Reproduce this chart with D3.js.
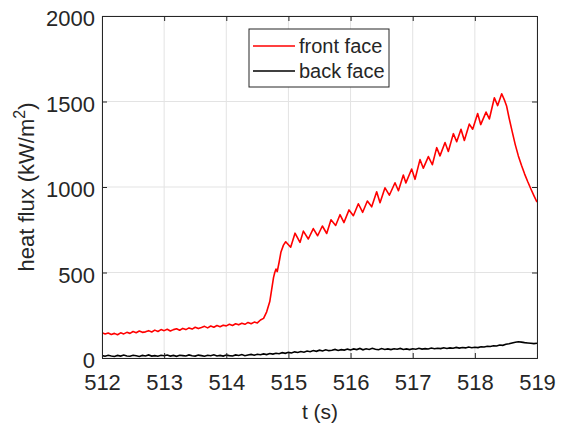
<!DOCTYPE html>
<html><head><meta charset="utf-8">
<script src="https://cdn.jsdelivr.net/npm/d3@7"></script>
<style>body{margin:0;background:#fff}svg{display:block}text{font-family:"Liberation Sans",Arial,sans-serif;fill:#262626}</style>
</head><body><svg id="c" width="561" height="427"></svg>
<script>
const xTicks=[512,513,514,515,516,517,518,519];
const yTicks=[0,500,1000,1500,2000];
const seriesNames=["front face","back face"];
const seriesColors=["#ff0000","#000000"];

const frontT=[512.00,512.05,512.10,512.15,512.20,512.25,512.30,512.35,512.40,512.45,
512.50,512.55,512.60,512.65,512.70,512.75,512.80,512.85,512.90,512.95,
513.00,513.05,513.10,513.15,513.20,513.25,513.30,513.35,513.40,513.45,
513.50,513.55,513.60,513.65,513.70,513.75,513.80,513.85,513.90,513.95,
514.00,514.05,514.10,514.15,514.20,514.25,514.30,514.35,514.40,514.45,514.50,
514.55,514.60,514.65,514.70,514.73,514.76,514.78,514.80,514.82,514.85,514.88,514.92,514.956,
515.036,515.106,515.186,515.24,515.32,515.40,515.47,515.546,515.616,515.685,515.76,515.83,515.894,515.975,
516.045,516.125,516.195,516.27,516.34,516.42,516.474,516.554,516.624,516.715,516.77,516.849,516.89,516.983,
517.037,517.117,517.171,517.252,517.316,517.386,517.439,517.52,517.573,517.654,517.708,517.777,517.831,517.911,517.965,
518.045,518.094,518.18,518.233,518.314,518.367,518.432,518.48,518.512,518.55,518.60,518.65,518.70,518.75,518.80,518.85,518.90,518.95,519.00];
const frontV=[148,140,146,138,144,136,147,141,150,144,
155,148,158,150,153,160,152,163,155,166,
160,168,158,166,171,162,173,166,176,169,
180,172,178,185,176,187,180,190,183,192,
188,197,190,200,194,203,197,208,200,210,205,
222,232,270,330,400,470,500,520,505,560,620,660,680,
648,730,676,742,696,757,715,772,728,808,775,838,792,866,
832,902,852,918,884,972,908,995,952,1025,978,1070,1024,1105,
1045,1160,1110,1178,1130,1230,1182,1260,1208,1312,1265,1338,1272,1368,1338,
1430,1365,1438,1398,1522,1476,1545,1505,1472,1405,1325,1248,1182,1127,1077,1032,990,950,912];

const backT=[512.00,512.05,512.10,512.15,512.20,512.25,512.30,512.35,512.40,512.45,512.50,512.55,512.60,512.65,512.70,512.75,512.80,512.85,512.90,512.95,
513.00,513.05,513.10,513.15,513.20,513.25,513.30,513.35,513.40,513.45,513.50,513.55,513.60,513.65,513.70,513.75,513.80,513.85,513.90,513.95,
514.00,514.05,514.10,514.15,514.20,514.25,514.30,514.35,514.40,514.45,514.50,514.55,514.60,514.65,514.70,514.75,514.80,514.85,514.90,514.95,
515.00,515.05,515.10,515.15,515.20,515.25,515.30,515.35,515.40,515.45,515.50,515.55,515.60,515.65,515.70,515.75,515.80,515.85,515.90,515.95,
516.00,516.05,516.10,516.15,516.20,516.25,516.30,516.35,516.40,516.45,516.50,516.55,516.60,516.65,516.70,516.75,516.80,516.85,516.90,516.95,
517.00,517.05,517.10,517.15,517.20,517.25,517.30,517.35,517.40,517.45,517.50,517.55,517.60,517.65,517.70,517.75,517.80,517.85,517.90,517.95,
518.00,518.05,518.10,518.15,518.20,518.25,518.30,518.35,518.40,518.45,518.50,518.55,518.60,518.65,518.70,518.75,518.80,518.85,518.90,518.95,519.00];
const backV=[14,10,16,12,9,15,11,17,12,10,16,13,9,15,12,18,11,14,10,16,
13,17,11,15,10,16,14,12,18,13,11,17,14,10,16,13,19,12,15,11,
17,14,12,18,15,20,13,17,21,16,22,19,24,20,26,23,28,25,31,27,
33,29,36,32,38,34,41,37,44,39,46,41,48,43,45,50,44,49,46,52,
47,53,49,56,48,54,50,57,51,48,55,50,53,49,54,51,56,50,53,49,
54,51,57,52,55,53,58,54,57,55,60,56,59,57,62,58,61,59,64,60,
63,61,66,64,69,67,72,70,76,74,80,83,88,92,95,93,90,88,86,84,86];

const L=102,R=537,T=16,B=358;
const svg=d3.select("#c");
const x=d3.scaleLinear().domain([512,519]).range([L,R]);
const y=d3.scaleLinear().domain([0,2000]).range([B,T]);
const g=svg.append("g");
g.selectAll(".gx").data(xTicks).join("line").attr("x1",d=>x(d)).attr("x2",d=>x(d)).attr("y1",T).attr("y2",B).attr("stroke","#e3e3e3").attr("stroke-width",1);
g.selectAll(".gy").data(yTicks).join("line").attr("x1",L).attr("x2",R).attr("y1",d=>y(d)).attr("y2",d=>y(d)).attr("stroke","#e3e3e3").attr("stroke-width",1);
svg.append("defs").append("clipPath").attr("id","clp").append("rect").attr("x",L).attr("y",T).attr("width",R-L).attr("height",B-T);
const line=d3.line().x(d=>x(d[0])).y(d=>y(d[1]));
const front=frontT.map((t,i)=>[t,frontV[i]]);
const back=backT.map((t,i)=>[t,backV[i]]);
svg.append("path").datum(back).attr("d",line).attr("fill","none").attr("stroke",seriesColors[1]).attr("stroke-width",1.6).attr("clip-path","url(#clp)");
svg.append("path").datum(front).attr("d",line).attr("fill","none").attr("stroke",seriesColors[0]).attr("stroke-width",1.6).attr("stroke-linejoin","round").attr("clip-path","url(#clp)");
const ax=d3.axisBottom(x).tickValues(xTicks).tickSize(-5).tickPadding(16).tickFormat(d3.format("d"));
const ay=d3.axisLeft(y).tickValues(yTicks).tickSize(-5).tickPadding(7).tickFormat(d3.format("d"));
const gx=svg.append("g").attr("transform",`translate(0,${B})`).call(ax);
const gy=svg.append("g").attr("transform",`translate(${L},0)`).call(ay);
const gx2=svg.append("g").attr("transform",`translate(0,${T})`).call(d3.axisTop(x).tickValues(xTicks).tickSize(-5).tickFormat(""));
const gy2=svg.append("g").attr("transform",`translate(${R},0)`).call(d3.axisRight(y).tickValues(yTicks).tickSize(-5).tickFormat(""));
[gx,gy,gx2,gy2].forEach(a=>{a.selectAll("path").attr("stroke","#262626").attr("stroke-width",1);a.selectAll("line").attr("stroke","#262626");a.selectAll("text").style("font-size","22px").attr("fill","#262626");});
gy.selectAll("text").attr("dy","0.45em");
svg.append("text").attr("x",320).attr("y",419).attr("text-anchor","middle").style("font-size","21px").text("t (s)");
const yl=svg.append("text").attr("transform","translate(34,187) rotate(-90)").attr("text-anchor","middle").style("font-size","22px");
yl.append("tspan").text("heat flux (kW/m");
yl.append("tspan").attr("dy","-9").style("font-size","16px").text("2");
yl.append("tspan").attr("dy","9").text(")");
const lg=svg.append("g");
lg.append("rect").attr("x",249).attr("y",29).attr("width",140).attr("height",58).attr("fill","#fff").attr("stroke","#262626").attr("stroke-width",1);
seriesNames.forEach((n,i)=>{
  const yy=46+i*25;
  lg.append("line").attr("x1",253).attr("x2",295).attr("y1",yy).attr("y2",yy).attr("stroke",seriesColors[i]).attr("stroke-width",1.6);
  lg.append("text").attr("x",299).attr("y",yy).attr("dy","0.35em").style("font-size","20px").text(n);
});
</script></body></html>
